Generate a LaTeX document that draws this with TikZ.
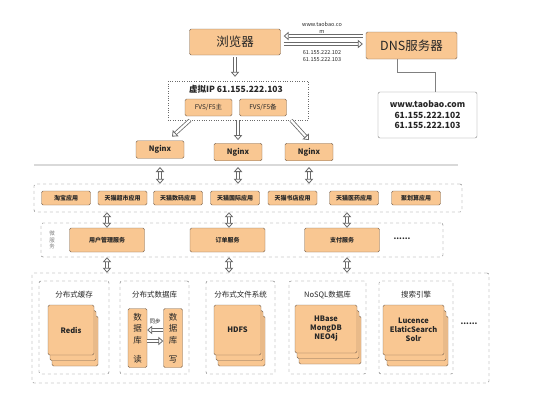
\documentclass[tikz,border=0pt]{standalone}
\usepackage{fontspec}
\setmainfont{Noto Sans CJK SC}
\usetikzlibrary{arrows.meta,shadows}

\definecolor{boxfill}{HTML}{F9C792}
\definecolor{boxline}{HTML}{7A6552}
\definecolor{dashgray}{HTML}{6A6A6A}
\definecolor{arrowgray}{HTML}{6A6A6A}
\definecolor{txtdark}{HTML}{262626}

\begin{document}
\begin{tikzpicture}[x=1pt, y=-1pt, text=txtdark,
  orange/.style={draw=boxline, fill=boxfill, rounded corners=1.5pt, inner sep=0pt},
  dashbox/.style={draw=dashgray, dashed, rounded corners=2pt, inner sep=0pt},
  stack/.style={orange, align=center, double copy shadow={shadow xshift=2pt, shadow yshift=-5.5pt}},
  hollow/.style={draw=arrowgray, double, double distance=2.2pt, line width=0.8pt,
    -{Triangle[open, length=5pt, width=8.5pt, line width=0.8pt]}},
  hollow2/.style={hollow, {Triangle[open, length=5pt, width=8.5pt, line width=0.8pt]}-{Triangle[open, length=5pt, width=8.5pt, line width=0.8pt]}}]
  \useasboundingbox (0,0) rectangle (551,400);
  % browser, DNS and the answer
  \node[orange, minimum width=91pt, minimum height=26pt, font=\fontsize{12.5}{14}\selectfont] (browser) at (235,42) {浏览器};
  \node[orange, minimum width=91pt, minimum height=27pt, font=\fontsize{12.5}{14}\selectfont] (dns) at (411.5,45.5) {DNS服务器};
  \draw[hollow] ([xshift=-3pt,yshift=9.5pt]dns.west) -- ([xshift=3pt,yshift=6pt]browser.east);
  \draw[hollow] ([xshift=3pt,yshift=-2pt]browser.east) -- ([xshift=-3pt,yshift=1.5pt]dns.west);
  \begin{scope}[every node/.style={align=center, font=\fontsize{5.5}{7}\selectfont}]
    \node (urllbl) at (322,28) {www.taobao.co\\m};
    \node (iplbl) at (322,56.5) {61.155.222.102\\61.155.222.103};
  \end{scope}
  \node[draw=gray, rounded corners=2pt, minimum width=99pt, minimum height=46pt, align=center,
    font=\bfseries\fontsize{8.5}{10.5}\selectfont] (www) at (427.5,115) {www.taobao.com\\61.155.222.102\\61.155.222.103};
  \draw[gray] ([xshift=-14.5pt]dns.south) -- ++(0,13) -| ([xshift=7.5pt]www.north);
  % virtual ip and nginx
  \node[draw=dashgray, dotted, minimum width=140pt, minimum height=39pt, inner sep=0pt] (vip) at (238,100.5) {};
  \node[font=\bfseries\fontsize{8.5}{9}\selectfont] (viptitle) at (236,89) {虚拟IP 61.155.222.103};
  \begin{scope}[every node/.style={orange, minimum width=47pt, minimum height=17pt, font=\fontsize{6.5}{7}\selectfont}]
    \node (fvsmain) at (208.5,107.5) {FVS/F5主};
    \node (fvsback) at (263,107.5) {FVS/F5备};
  \end{scope}
  \draw[hollow] ([yshift=-2pt]browser.south) -- ([yshift=4pt]vip.north -| browser);
  \begin{scope}[every node/.style={orange, minimum width=48pt, minimum height=17.5pt, font=\bfseries\fontsize{7.5}{8}\selectfont}]
    \node (nginx1) at (160,149.5) {Nginx};
    \node (nginx2) at (238,152) {Nginx};
    \node (nginx3) at (309,152) {Nginx};
  \end{scope}
  \draw[hollow] ([xshift=-48pt]vip.south) -- ([xshift=12pt,yshift=4pt]nginx1.north);
  \draw[hollow] (vip.south) -- ([yshift=3pt]nginx2.north);
  \draw[hollow] ([xshift=53pt]vip.south) -- ([yshift=3pt]nginx3.north);
  \draw[gray!30, line width=1.2pt] (34,165) coordinate (sepL) -- (458,165) coordinate (sepR);
  % applications
  \node[dashbox, minimum width=428pt, minimum height=28pt] (apps) at (248,198) {};
  \foreach \x/\t [count=\i] in {66/淘宝应用, 122.5/天猫超市应用, 178/天猫数码应用, 235/天猫国际应用,
      292.5/天猫书店应用, 354/天猫医药应用, 416/聚划算应用}
    \node[orange, minimum width=49pt, minimum height=14pt, font=\bfseries\fontsize{6}{6}\selectfont] (app\i) at (\x,198) {\t};
  \foreach \n in {nginx1,nginx2,nginx3}
    \draw[hollow2] ([yshift=-2pt]\n |- sepL) -- (\n |- apps.north);
  % micro services
  \node[dashbox, minimum width=402pt, minimum height=34pt] (svcs) at (242,240) {};
  \node[text=gray, align=center, font=\fontsize{5.5}{6.5}\selectfont] (svclbl) at (52,240) {微\\服\\务};
  \begin{scope}[every node/.style={orange, minimum width=75pt, minimum height=24pt, font=\bfseries\fontsize{6}{6}\selectfont}]
    \node (svc1) at (107,240) {用户管理服务};
    \node (svc2) at (227.5,240) {订单服务};
    \node (svc3) at (342,240) {支付服务};
  \end{scope}
  \node[font=\bfseries\fontsize{8}{8}\selectfont] (svcdots) at (402,239) {......};
  % storage
  \node[dashbox, minimum width=457pt, minimum height=110pt] (store) at (260.5,328) {};
  \foreach \s/\dx in {svc1/0, svc2/1.5, svc3/5} {
    \draw[hollow2] ([xshift=\dx pt]apps.south -| \s) -- ([xshift=\dx pt]\s.north);
    \draw[hollow2] ([xshift=\dx pt]svcs.south -| \s) -- ([xshift=\dx pt]store.north -| \s);
  }
  \foreach \x/\w/\t/\n in {74/70/分布式缓存/cache, 154.5/69/分布式数据库/db, 240.5/69/分布式文件系统/fs,
      327.5/77/NoSQL数据库/nosql, 416/74/搜索引擎/search} {
    \node[dashbox, minimum width=\w pt, minimum height=93pt] (\n) at (\x,327.5) {};
    \node[font=\fontsize{7.5}{8}\selectfont] (\n title) at (\x,295) {\t};
  }
  \begin{scope}[every node/.style={stack, font=\bfseries\fontsize{7.5}{9}\selectfont}]
    \node[minimum width=46pt, minimum height=50pt] (redis) at (71,330) {Redis};
    \node[minimum width=47pt, minimum height=50pt] (hdfs) at (237.5,330) {HDFS};
    \node[minimum width=62pt, minimum height=48pt] (nosqlstack) at (326,329) {HBase\\MongDB\\NEO4j};
    \node[minimum width=61pt, minimum height=50pt] (searchstack) at (413.5,330) {Lucence\\ElaticSearch\\Solr};
  \end{scope}
  \begin{scope}[every node/.style={orange, minimum width=19pt, minimum height=59pt, align=center, font=\fontsize{8.5}{11.7}\selectfont}]
    \node (dbread) at (137.5,338) {数\\据\\库\\[7pt]读};
    \node (dbwrite) at (173,338) {数\\据\\库\\[7pt]写};
  \end{scope}
  \draw[hollow] ([yshift=8pt]dbwrite.west) -- ([yshift=8pt]dbread.east);
  \draw[hollow] ([yshift=-3pt]dbread.east) -- ([yshift=-3pt]dbwrite.west);
  \node[font=\fontsize{5.5}{6}\selectfont] (synclbl) at (155,321) {同步};
  \node[font=\bfseries\fontsize{8}{8}\selectfont] (storedots) at (469,324) {......};
\end{tikzpicture}
\end{document}
